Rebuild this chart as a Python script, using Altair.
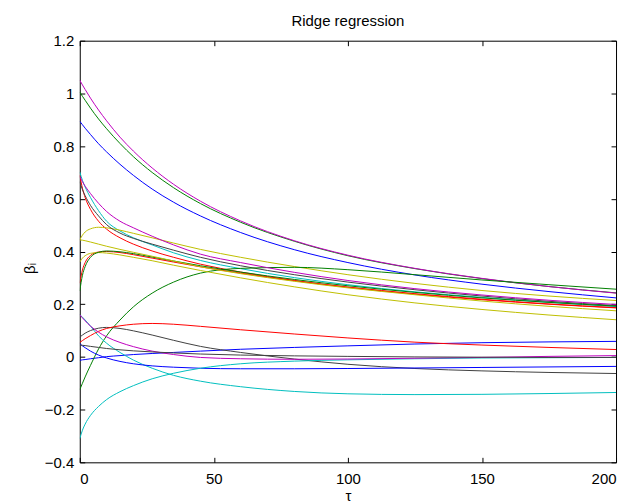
import altair as alt
import pandas as pd

# Sample positions along the regularisation axis (tau)
TAU = [0, 1, 2, 4, 7, 10, 15, 20, 27, 35, 45, 60, 80, 100, 125, 150, 175, 200]

# Coefficient paths
B1 = [0.894, 0.881, 0.868, 0.844, 0.809, 0.778, 0.731, 0.689, 0.637, 0.587, 0.535, 0.472, 0.407, 0.358, 0.311, 0.276, 0.248, 0.224]
G1 = [1.005, 0.989, 0.974, 0.944, 0.903, 0.866, 0.810, 0.760, 0.700, 0.642, 0.582, 0.511, 0.439, 0.384, 0.335, 0.297, 0.267, 0.243]
R1 = [0.690, 0.640, 0.605, 0.560, 0.515, 0.485, 0.452, 0.428, 0.402, 0.378, 0.352, 0.322, 0.290, 0.264, 0.238, 0.217, 0.200, 0.186]
C1 = [0.702, 0.670, 0.645, 0.605, 0.555, 0.515, 0.478, 0.452, 0.425, 0.395, 0.366, 0.335, 0.301, 0.274, 0.247, 0.226, 0.207, 0.191]
M1 = [1.050, 1.032, 1.015, 0.982, 0.937, 0.896, 0.834, 0.781, 0.717, 0.655, 0.591, 0.516, 0.441, 0.386, 0.336, 0.298, 0.267, 0.242]
Y1 = [0.444, 0.462, 0.474, 0.486, 0.492, 0.490, 0.481, 0.469, 0.452, 0.432, 0.408, 0.378, 0.343, 0.312, 0.279, 0.252, 0.231, 0.214]
K1 = [0.665, 0.635, 0.612, 0.575, 0.535, 0.502, 0.470, 0.450, 0.428, 0.405, 0.378, 0.346, 0.312, 0.284, 0.255, 0.231, 0.211, 0.195]

B2 = [-0.013, -0.011, -0.010, -0.007, -0.003, 0.001, 0.005, 0.009, 0.013, 0.017, 0.022, 0.029, 0.036, 0.042, 0.049, 0.054, 0.057, 0.059]
G2 = [-0.124, -0.100, -0.076, -0.032, 0.030, 0.080, 0.140, 0.190, 0.242, 0.284, 0.318, 0.336, 0.340, 0.331, 0.312, 0.292, 0.274, 0.257]
R2 = [0.280, 0.330, 0.358, 0.385, 0.398, 0.400, 0.396, 0.388, 0.375, 0.360, 0.342, 0.318, 0.289, 0.265, 0.240, 0.219, 0.201, 0.187]
C2 = [0.160, 0.151, 0.140, 0.117, 0.080, 0.052, 0.017, -0.012, -0.043, -0.070, -0.092, -0.113, -0.131, -0.140, -0.143, -0.142, -0.139, -0.135]
M2 = [0.685, 0.665, 0.648, 0.620, 0.583, 0.552, 0.515, 0.490, 0.458, 0.425, 0.390, 0.358, 0.321, 0.290, 0.259, 0.235, 0.215, 0.199]
Y2 = [0.360, 0.375, 0.384, 0.393, 0.396, 0.394, 0.387, 0.378, 0.365, 0.348, 0.328, 0.300, 0.266, 0.236, 0.205, 0.180, 0.159, 0.141]
K2 = [0.075, 0.083, 0.090, 0.100, 0.109, 0.112, 0.108, 0.099, 0.083, 0.063, 0.040, 0.017, -0.008, -0.028, -0.044, -0.053, -0.059, -0.063]

B3 = [0.050, 0.042, 0.035, 0.022, 0.007, -0.004, -0.017, -0.026, -0.034, -0.039, -0.043, -0.045, -0.045, -0.044, -0.042, -0.040, -0.038, -0.036]
G3 = [0.250, 0.310, 0.343, 0.378, 0.397, 0.402, 0.399, 0.392, 0.379, 0.364, 0.346, 0.322, 0.294, 0.270, 0.245, 0.224, 0.207, 0.193]
R3 = [0.055, 0.062, 0.069, 0.081, 0.097, 0.108, 0.118, 0.124, 0.127, 0.124, 0.116, 0.103, 0.087, 0.072, 0.056, 0.045, 0.036, 0.028]
C3 = [-0.310, -0.278, -0.255, -0.222, -0.188, -0.162, -0.132, -0.109, -0.083, -0.062, -0.043, -0.026, -0.016, -0.011, -0.007, -0.004, -0.003, -0.002]
M3 = [0.160, 0.148, 0.137, 0.117, 0.094, 0.076, 0.055, 0.039, 0.022, 0.009, -0.002, -0.007, -0.009, -0.008, -0.005, -0.002, 0.002, 0.005]
Y3 = [0.444, 0.443, 0.441, 0.436, 0.428, 0.420, 0.408, 0.397, 0.382, 0.364, 0.342, 0.316, 0.287, 0.262, 0.236, 0.212, 0.192, 0.175]
K3 = [0.045, 0.044, 0.043, 0.040, 0.036, 0.032, 0.027, 0.023, 0.019, 0.015, 0.011, 0.007, 0.004, 0.002, 0.000, -0.001, -0.002, -0.002]

SERIES_NAMES = ["B1", "G1", "R1", "C1", "M1", "Y1", "K1",
                "B2", "G2", "R2", "C2", "M2", "Y2", "K2",
                "B3", "G3", "R3", "C3", "M3", "Y3", "K3"]
SERIES_VALUES = [B1, G1, R1, C1, M1, Y1, K1,
                 B2, G2, R2, C2, M2, Y2, K2,
                 B3, G3, R3, C3, M3, Y3, K3]
CYCLE = ["#0000ff", "#008000", "#ff0000", "#00bfbf", "#bf00bf", "#bfbf00", "#404040"]
SERIES_COLORS = [CYCLE[i % 7] for i in range(len(SERIES_NAMES))]

X_TICKS = [0, 50, 100, 150, 200]
Y_TICKS = [-0.4, -0.2, 0, 0.2, 0.4, 0.6, 0.8, 1, 1.2]

rows = []
for name, vals in zip(SERIES_NAMES, SERIES_VALUES):
    for t, v in zip(TAU, vals):
        rows.append({"tau": t, "beta": v, "series": name})
df = pd.DataFrame(rows)

FONT = "Liberation Sans"
FS = 15

xs = alt.Scale(domain=[0, 200], nice=False, zero=False)
ys = alt.Scale(domain=[-0.4, 1.2], nice=False, zero=False)

lines = alt.Chart(df).mark_line(strokeWidth=1, interpolate="monotone", clip=True).encode(
    x=alt.X("tau:Q", scale=xs,
            axis=alt.Axis(values=X_TICKS, title="τ", orient="bottom", offset=-5, tickSize=5,
                          domain=False, grid=False, labelPadding=9, format="~f",
                          titleX=269, titleY=43, titleBaseline="alphabetic", titleAlign="center")),
    y=alt.Y("beta:Q", scale=ys,
            axis=alt.Axis(values=Y_TICKS, title="βᵢ", orient="left", offset=-5, tickSize=5,
                          domain=False, grid=False, labelPadding=6, format="~f",
                          titleAngle=270, titleX=-55, titleY=228,
                          titleBaseline="middle", titleAlign="center")),
    color=alt.Color("series:N", scale=alt.Scale(domain=SERIES_NAMES, range=SERIES_COLORS), legend=None),
    detail="series:N",
)

frame = alt.Chart(df).mark_point(opacity=0).encode(
    x=alt.X("tau:Q", scale=xs,
            axis=alt.Axis(values=X_TICKS, title="", orient="top", offset=-5, tickSize=5,
                          domain=False, grid=False, labels=False)),
    y=alt.Y("beta:Q", scale=ys,
            axis=alt.Axis(values=Y_TICKS, title="", orient="right", offset=-5, tickSize=5,
                          domain=False, grid=False, labels=False)),
)

chart = alt.layer(lines, frame).resolve_scale(x="independent", y="independent").properties(
    width=538,
    height=423,
    background="#ffffff",
    autosize=alt.AutoSizeParams(type="none"),
    padding={"left": 72, "top": 32, "right": 8, "bottom": 38},
    title=alt.TitleParams("Ridge regression", font=FONT, fontSize=FS, fontWeight="normal",
                          color="#000000", anchor="middle", offset=4, baseline="bottom", dy=14),
).configure_view(
    stroke="#000000", strokeWidth=1
).configure_axis(
    labelFont=FONT, labelFontSize=FS, labelColor="#000000",
    titleFont=FONT, titleFontSize=FS, titleColor="#000000", titleFontWeight="normal",
    tickColor="#000000", tickWidth=1,
)

chart.save("out.html", embed_options={"renderer": "svg", "actions": False})
